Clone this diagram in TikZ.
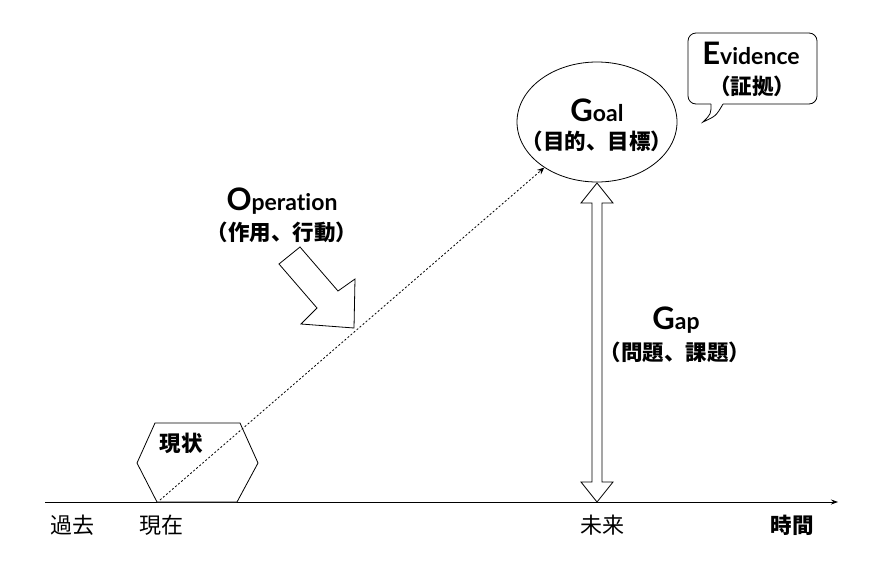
\documentclass[tikz,border=0pt]{standalone}
\usepackage{fontspec}
\setmainfont[Ligatures=NoCommon]{Lato}
\newfontfamily\jp{Noto Sans CJK JP}
\usetikzlibrary{arrows.meta,shapes.geometric}
\newcommand{\capl}[1]{{\fontsize{31}{31}\selectfont #1}}
\tikzset{
  lbl/.style={font=\jp\fontsize{22}{24}\selectfont, inner sep=0pt},
  blbl/.style={font=\jp\bfseries\fontsize{21.5}{24}\selectfont, inner sep=0pt},
  title/.style={font=\bfseries\fontsize{23}{26}\selectfont, inner sep=0pt},
  outline/.style={draw=black, line width=0.8pt, fill=white},
}
\begin{document}
\begin{tikzpicture}[x=1pt,y=-1pt]
\useasboundingbox (0,0) rectangle (880,570);
% axis
\coordinate (axL) at (45,502);
\coordinate (axR) at (838,502);
\draw[line width=0.8pt, -{Stealth[length=7pt,width=5pt]}] (axL) -- (axR);
% hexagon
\draw[outline] (155,423) -- (240,423) -- (258,463) -- (237,502) -- (157,502) -- (137,463) -- cycle;
\node[blbl] (now) at (181,443) {現状};
% goal ellipse
\node[draw, line width=0.8pt, ellipse, minimum width=160pt, minimum height=120pt] (goal) at (597,122) {};
\node[title] (goalt) at (597,110) {\capl{G}oal};
\node[blbl] (goalj) at (597,141) {（目的、目標）};
% dotted connector
\coordinate (start) at (160,500);
\draw[line width=0.8pt, dash pattern=on 2pt off 2pt, -{Stealth[length=7pt,width=6pt]}] (start) -- (goal);
% operation text
\node[title] (opt) at (282,201) {\capl{O}peration};
\node[blbl] (opj) at (282,232) {（作用、行動）};
% big arrow
\draw[outline] (279,264) -- (300,247) -- (338,291) -- (355,279) -- (354,328) -- (301,324) -- (317,308) -- cycle;
% double arrow
\draw[outline] (597,183) -- (613,203) -- (602,203) -- (602,482) -- (613,482) -- (597,502) -- (581,482) -- (592,482) -- (592,203) -- (581,203) -- cycle;
\node[title] (gapt) at (676,320) {\capl{G}ap};
\node[blbl] (gapj) at (675,352) {（問題、課題）};
% evidence callout
\draw[outline, rounded corners=8pt] (723,104) -- (817,104) -- (817,33) -- (688,33) -- (688,104) -- (711,104);
\draw[line width=0.8pt] (711,104) .. controls (711,114) .. (703,122) .. controls (716,116) .. (723,104);
\node[title] (evt) at (751,53) {\capl{E}vidence};
\node[blbl] (evj) at (752,86) {（証拠）};
% axis labels
\node[lbl] (past) at (72,525) {過去};
\node[lbl] (pres) at (161,525) {現在};
\node[lbl] (fut) at (602,525) {未来};
\node[blbl] (time) at (792,525) {時間};
\end{tikzpicture}
\end{document}
